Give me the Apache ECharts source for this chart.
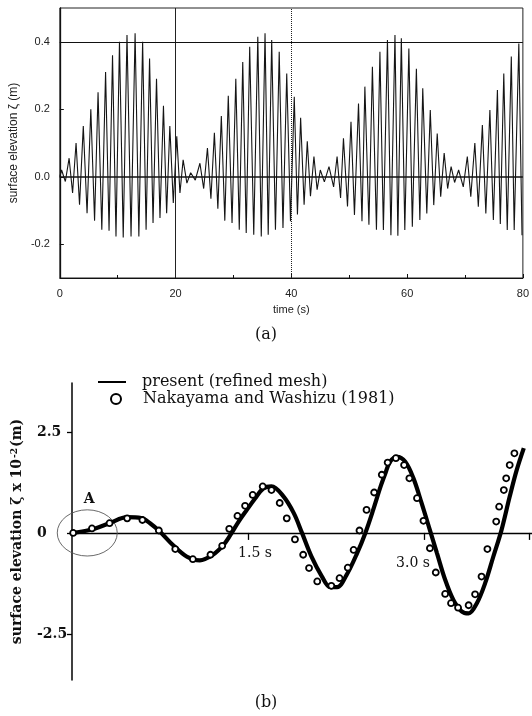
<!DOCTYPE html>
<html><head><meta charset="utf-8">
<script src="https://cdn.jsdelivr.net/npm/echarts@6/dist/echarts.min.js"></script>
<style>html,body{margin:0;padding:0;background:#fff}#c{width:532px;height:716px}</style>
</head><body><div id="c"></div>
<script>
// ---- panel (a) ----
const topYTicks = [-0.2, 0, 0.2, 0.4];
const topRefX = [20, 40];
const topRefY = [0.4, 0];
// [time (s), surface elevation (m)] crests/troughs
const surfaceA = [
[0,0],[0.3,0.02],[0.95,-0.014],[1.6,0.055],[2.2,-0.048],[2.8,0.10],[3.4,-0.083],[4.05,0.15],[4.7,-0.108],
[5.35,0.20],[6.0,-0.13],[6.6,0.25],[7.25,-0.157],[7.9,0.31],[8.5,-0.16],[9.1,0.36],[9.7,-0.177],[10.3,0.40],
[10.95,-0.18],[11.6,0.42],[12.3,-0.177],[13.0,0.425],[13.65,-0.177],[14.3,0.40],[14.9,-0.157],[15.5,0.35],
[16.1,-0.137],[16.7,0.29],[17.3,-0.122],[17.9,0.21],[18.45,-0.108],[19.0,0.15],[19.6,-0.078],[20.2,0.12],
[20.75,-0.048],[21.3,0.05],[21.95,-0.019],[22.6,0.012],[23.4,-0.01],[24.2,0.04],[24.85,-0.035],[25.5,0.085],
[26.1,-0.065],[26.7,0.13],[27.3,-0.095],[27.9,0.18],[28.5,-0.13],[29.1,0.24],[29.75,-0.137],[30.4,0.29],
[31.0,-0.157],[31.6,0.34],[32.2,-0.167],[32.8,0.385],[33.5,-0.172],[34.2,0.415],[34.8,-0.177],[35.45,0.425],
[36.0,-0.172],[36.6,0.405],[37.25,-0.157],[37.9,0.37],[38.55,-0.152],[39.2,0.306],[39.85,-0.132],[40.5,0.237],
[41.05,-0.112],[41.6,0.175],[42.2,-0.083],[42.75,0.105],[43.3,-0.058],[43.9,0.06],[44.45,-0.038],[45.0,0.02],
[45.7,-0.015],[46.5,0.03],[47.3,-0.03],[47.9,0.06],[48.5,-0.063],[49.0,0.114],[49.7,-0.088],[50.3,0.163],
[50.9,-0.113],[51.6,0.217],[52.2,-0.132],[52.7,0.267],[53.4,-0.142],[54.0,0.326],[54.7,-0.157],[55.3,0.37],
[55.9,-0.158],[56.6,0.405],[57.2,-0.173],[57.9,0.42],[58.4,-0.175],[59.0,0.41],[59.6,-0.158],[60.3,0.38],
[60.9,-0.148],[61.6,0.32],[62.2,-0.128],[62.7,0.262],[63.4,-0.109],[64.0,0.198],[64.6,-0.084],[65.2,0.128],
[65.8,-0.059],[66.4,0.07],[67.0,-0.035],[67.6,0.03],[68.2,-0.017],[68.9,0.02],[69.7,-0.03],[70.4,0.06],
[71.0,-0.059],[71.7,0.1],[72.3,-0.089],[73.0,0.153],[73.6,-0.109],[74.3,0.198],[74.9,-0.128],[75.6,0.257],
[76.1,-0.14],[76.7,0.306],[77.3,-0.158],[78.0,0.356],[78.5,-0.158],[79.3,0.395],[79.85,-0.173]
];
// ---- panel (b) ----
const botXLabels = [1.5, 3.0];
const botXTicks = [1.5, 3.0, 3.9];
const botYTicks = [-2.5, 0, 2.5];
const presentB = [
[0,0],[0.15,0.07],[0.32,0.24],[0.47,0.39],[0.59,0.37],[0.665,0.24],[0.75,0.03],[0.86,-0.3],[0.98,-0.59],
[1.09,-0.68],[1.2,-0.54],[1.29,-0.30],[1.35,-0.05],[1.42,0.28],[1.49,0.57],[1.56,0.85],[1.63,1.1],[1.70,1.15],
[1.80,0.91],[1.89,0.49],[1.96,0],[2.04,-0.58],[2.13,-1.08],[2.2,-1.34],[2.26,-1.34],[2.34,-1.04],[2.43,-0.5],
[2.5,0],[2.57,0.6],[2.63,1.15],[2.67,1.47],[2.71,1.76],[2.77,1.88],[2.84,1.76],[2.91,1.35],[2.98,0.73],
[3.05,0.07],[3.11,-0.5],[3.18,-1.16],[3.25,-1.66],[3.32,-1.94],[3.38,-1.99],[3.45,-1.74],[3.52,-1.25],
[3.59,-0.59],[3.66,0.07],[3.73,0.9],[3.79,1.56],[3.85,2.1]
];
const nakayamaB = [
[0.01,0],[0.17,0.11],[0.32,0.24],[0.47,0.36],[0.60,0.32],[0.74,0.06],[0.88,-0.40],[1.03,-0.65],[1.18,-0.54],
[1.28,-0.32],[1.34,0.1],[1.41,0.42],[1.475,0.67],[1.54,0.94],[1.625,1.15],[1.70,1.06],[1.77,0.74],[1.83,0.36],
[1.90,-0.16],[1.97,-0.54],[2.02,-0.87],[2.09,-1.2],[2.21,-1.31],[2.28,-1.12],[2.35,-0.86],[2.40,-0.42],
[2.45,0.06],[2.51,0.57],[2.575,1.0],[2.64,1.44],[2.69,1.74],[2.76,1.85],[2.83,1.68],[2.875,1.35],[2.94,0.86],
[2.995,0.3],[3.05,-0.38],[3.10,-0.98],[3.18,-1.51],[3.23,-1.74],[3.29,-1.85],[3.38,-1.79],[3.435,-1.52],
[3.49,-1.08],[3.54,-0.4],[3.615,0.28],[3.64,0.65],[3.68,1.06],[3.70,1.35],[3.73,1.68],[3.77,1.97]
];
const nameLine = 'present (refined mesh)';
const nameDots = 'Nakayama and Washizu (1981)';

const serif = 'DejaVu Serif';
const sans = 'Liberation Sans';
const chart = echarts.init(document.getElementById('c'), null, {renderer: 'canvas'});
const botYMin = -3.64, botYMax = 3.71, botGridTop = 383, botGridH = 297;
// x axis of panel (b) sits on the zero line: shift it up from the grid bottom
const zeroShift = botGridH * (0 - botYMin) / (botYMax - botYMin);
const option = {
  animation: false,
  backgroundColor: '#fff',
  title: [
    {text: '(a)', left: 'center', top: 322, textStyle: {fontFamily: serif, fontSize: 16, fontWeight: 'normal', color: '#111'}},
    {text: '(b)', left: 'center', top: 690, textStyle: {fontFamily: serif, fontSize: 16, fontWeight: 'normal', color: '#111'}}
  ],
  legend: [
    {data: [{name: nameLine, icon: 'rect'}], left: 93, top: 369, padding: 5, itemWidth: 28, itemHeight: 2,
     textStyle: {fontFamily: serif, fontSize: 16, color: '#111', padding: [0, 0, 0, 11]}},
    {data: [{name: nameDots}], left: 105, top: 386, padding: 5, itemWidth: 10, itemHeight: 10,
     textStyle: {fontFamily: serif, fontSize: 16, color: '#111', padding: [0, 0, 0, 17]}}
  ],
  grid: [
    {left: 58, top: 8, width: 467, height: 270, show: true, borderColor: '#222', borderWidth: 1},
    {left: 72, top: botGridTop, width: 460, height: botGridH}
  ],
  xAxis: [
    {gridIndex: 0, type: 'value', min: 0, max: 80, interval: 20,
     axisLine: {show: true, onZero: false, lineStyle: {color: '#111', width: 1}},
     axisTick: {inside: true, length: 4, lineStyle: {color: '#111'}},
     minorTick: {show: true, splitNumber: 2, length: 3, lineStyle: {color: '#111'}},
     splitLine: {show: false},
     axisLabel: {margin: 10, fontFamily: sans, fontSize: 11, color: '#222'},
     name: 'time (s)', nameLocation: 'middle', nameGap: 26,
     nameTextStyle: {fontFamily: sans, fontSize: 11, color: '#222'}},
    {gridIndex: 1, type: 'value', min: 0, max: 3.92, position: 'bottom', offset: -zeroShift,
     axisLine: {show: true, onZero: false, lineStyle: {color: '#000', width: 1.3}},
     axisTick: {show: true, customValues: botXTicks, length: 7, lineStyle: {color: '#000', width: 1.3}},
     splitLine: {show: false},
     axisLabel: {customValues: botXLabels, margin: 13, color: '#111',
       formatter: v => (v === 1.5 ? '{a|1.5 s}' : '{b|3.0 s}'),
       rich: {a: {fontFamily: serif, fontSize: 14, color: '#111', padding: [0, 0, 0, 14]},
              b: {fontFamily: serif, fontSize: 14, color: '#111', padding: [10, 22, 0, 0]}}}}
  ],
  yAxis: [
    {gridIndex: 0, type: 'value', min: -0.3, max: 0.5,
     axisLine: {show: true, onZero: false, lineStyle: {color: '#111', width: 1.3}},
     axisTick: {show: true, inside: true, length: 4, customValues: topYTicks, lineStyle: {color: '#111'}},
     splitLine: {show: false},
     axisLabel: {customValues: topYTicks, margin: 10, fontFamily: sans, fontSize: 11, color: '#222',
       formatter: v => v.toFixed(1)},
     name: 'surface elevation \u03b6 (m)', nameLocation: 'middle', nameGap: 37,
     nameTextStyle: {fontFamily: sans, fontSize: 12, color: '#222'}},
    {gridIndex: 1, type: 'value', min: botYMin, max: botYMax,
     axisLine: {show: true, onZero: false, lineStyle: {color: '#000', width: 1.5}},
     axisTick: {show: true, customValues: botYTicks, length: 5, lineStyle: {color: '#000', width: 1.3}},
     splitLine: {show: false},
     axisLabel: {customValues: botYTicks, align: 'left', margin: 35, fontFamily: serif, fontWeight: 'bold',
       fontSize: 14, color: '#111', formatter: v => (v === 0 ? '0' : v.toFixed(1))},
     name: '{n|surface elevation \u03b6 x 10}{s|-2}{n|(m)}', nameLocation: 'middle', nameGap: 47,
     nameTextStyle: {fontFamily: serif, fontWeight: 'bold', fontSize: 14, color: '#111',
       rich: {n: {fontFamily: serif, fontWeight: 'bold', fontSize: 14, color: '#111'},
              s: {fontFamily: serif, fontWeight: 'bold', fontSize: 9, color: '#111', verticalAlign: 'top', padding: [0, 1, 6, 1]}}}}
  ],
  series: [
    {type: 'line', xAxisIndex: 0, yAxisIndex: 0, data: surfaceA, showSymbol: false, symbol: 'none',
     lineStyle: {color: '#151515', width: 1.1}, z: 3,
     markLine: {silent: true, symbol: ['none', 'none'], label: {show: false},
       lineStyle: {color: '#111', width: 1, type: 'solid'},
       data: [
         ...topRefX.map((x, i) => ({xAxis: x, lineStyle: {type: i === 0 ? 'solid' : 'dotted', color: '#222', width: 1}})),
         ...topRefY.map((y, i) => ({yAxis: y, lineStyle: {type: 'solid', color: '#111', width: i === 0 ? 1 : 1.6}}))
       ]}},
    {type: 'line', name: nameLine, xAxisIndex: 1, yAxisIndex: 1, data: presentB, smooth: 0.35,
     showSymbol: false, symbol: 'none', lineStyle: {color: '#000', width: 4.2}, itemStyle: {color: '#000'}, z: 3},
    {type: 'scatter', name: nameDots, xAxisIndex: 1, yAxisIndex: 1, data: nakayamaB, symbol: 'circle', symbolSize: 6,
     itemStyle: {color: '#fff', borderColor: '#000', borderWidth: 1.8, opacity: 1}, z: 4}
  ]
};
chart.setOption(option);
const c0 = chart.convertToPixel({gridIndex: 1}, [0.13, 0]);
chart.setOption({graphic: [
  {type: 'circle', x: c0[0], y: c0[1], scaleY: 0.77, shape: {cx: 0, cy: 0, r: 30},
   style: {fill: 'none', stroke: '#555', lineWidth: 1, strokeNoScale: true}, z: 2},
  {type: 'text', x: c0[0] + 2, y: c0[1] - 34,
   style: {text: 'A', fontFamily: serif, fontWeight: 'bold', fontSize: 14, fill: '#111', align: 'center', verticalAlign: 'middle'}}
]});
</script></body></html>
